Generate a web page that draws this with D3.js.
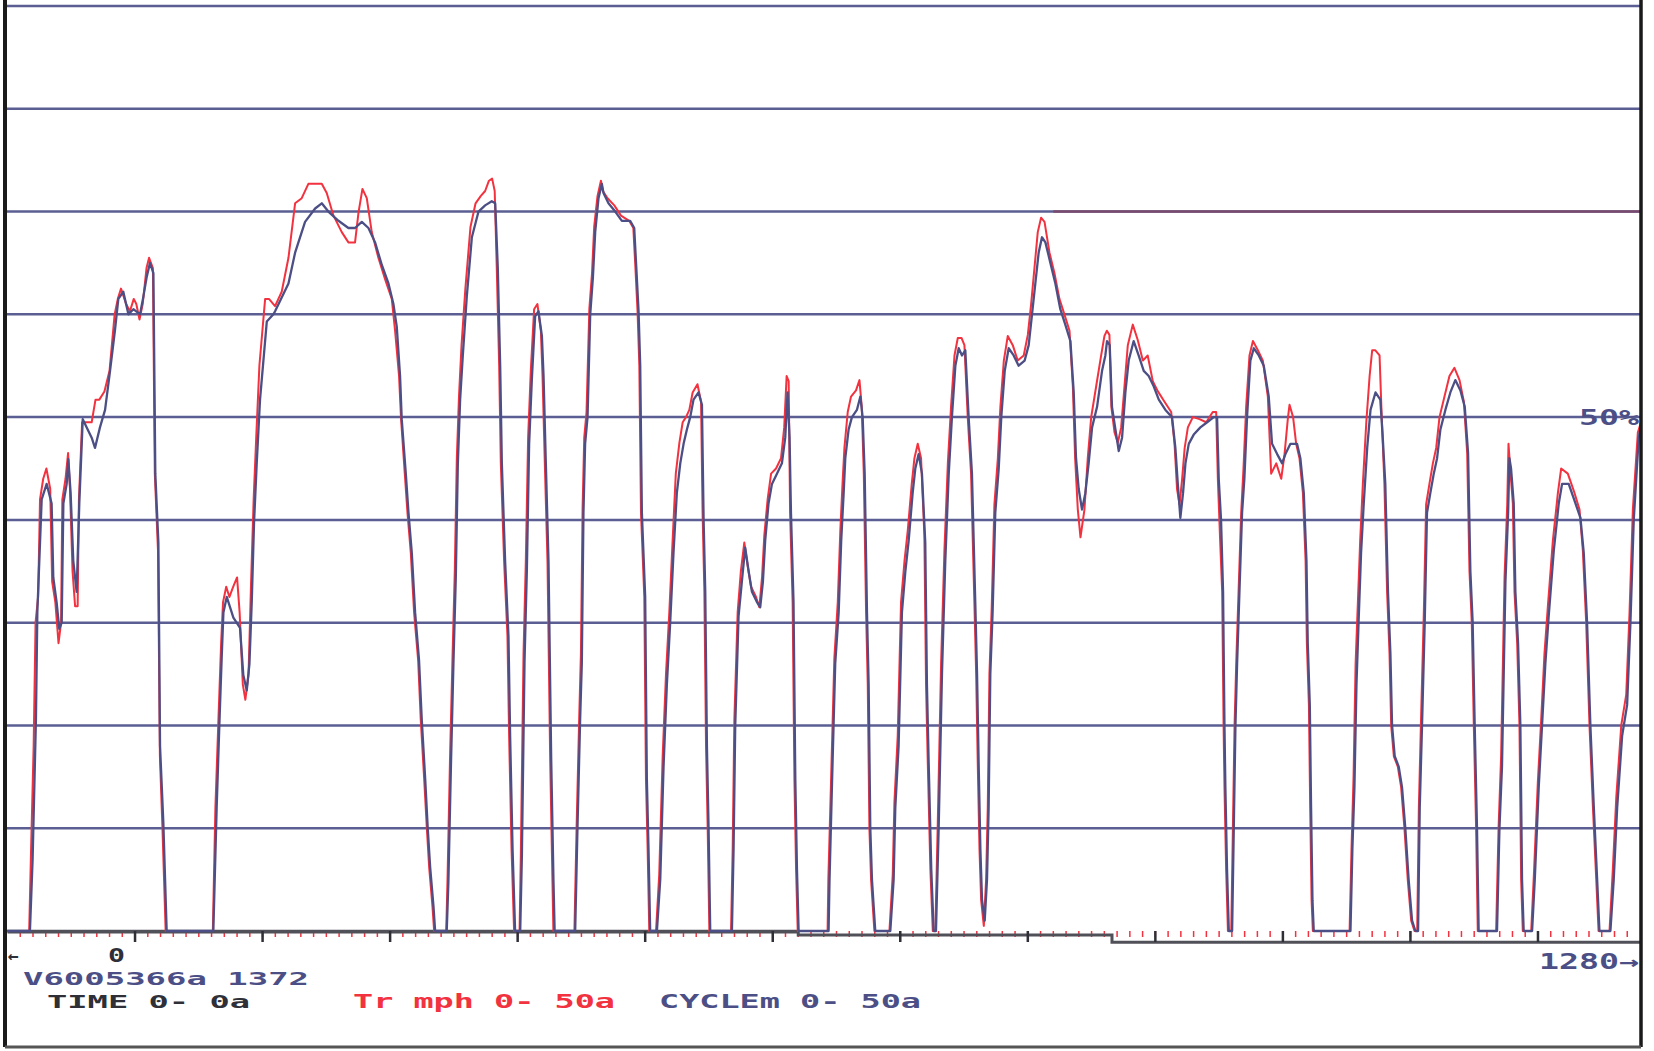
<!DOCTYPE html>
<html>
<head>
<meta charset="utf-8">
<script src="https://cdn.jsdelivr.net/npm/d3@7"></script>
<style>
  body { margin: 0; background: #fff; }
  svg { display: block; }
  text { font-family: "DejaVu Sans Mono", "Liberation Mono", monospace; font-weight: bold; }
</style>
</head>
<body>
<svg id="vis" width="1654" height="1051"></svg>
<script>
var vis = d3.select("#vis");

// time axis (s) and level grid (% of full scale)
var timeDomain = [0, 1280];
var timeTicks = [100, 200, 300, 400, 500, 600, 700, 800, 900, 1000, 1100, 1200];
var levelGrid = [10, 20, 30, 40, 50, 60, 70, 80, 90];

// CYCLEm trace, [time s, % of scale]
var cycle = [
  [0,0],[17.6,0],[19.7,7],[22.3,20.6],[23.4,31],[26.8,42],[30.7,43.5],[34.6,41.6],[35.9,34.4],[38.5,32],
  [40.6,29.4],[42.5,30],[43.8,41.6],[46.4,43.5],[47.7,45.9],[49.5,42.6],[51.6,36],[54.2,33],[56.3,41.6],[59,49.8],
  [62.1,49],[66,48],[68.6,47],[72.5,49],[76.5,50.7],[80.4,54.5],[84.3,58.5],[86.9,61.5],[90.8,62.2],[94.8,60],
  [98.7,60.5],[103.9,60],[106.5,61.7],[109.1,63.6],[111.7,65],[114.4,64],[115.9,44.5],[118.3,37.8],[119.6,18],[122.2,10.5],
  [124.8,0],[161.4,0],[164,12],[166.1,20],[168,26.8],[169.3,31],[171.9,32.5],[177.1,30.5],[182.3,29.5],[184.9,24.9],
  [187.6,23.4],[189.7,26],[191.5,32],[193.3,39.7],[195.4,45.5],[198,51.7],[203.3,59.3],[208.5,60],
  [209.8,60.3],[220.3,63],[225.5,66],[233.3,69],[241.2,70.3],[246.4,70.8],[251.6,70],[259.5,69.1],[267.3,68.4],[272.5,68.4],
  [277.8,69],[283,68.4],[288.2,67],[293.5,64.8],[298.7,63],[302.6,61],[305.2,58.8],[307.8,54],[309.1,49.8],[312.3,44.5],
  [314.4,40.7],[317,36.8],[319.6,31],[322.7,26.3],[324.8,20.6],[327.5,14.8],[329.5,10],[331.4,6.2],[334,2.4],[335.3,0],
  [344.4,0],[345.7,4.8],[347.8,16.7],[349.7,26.3],[351.5,34.4],[353.1,45.5],[354.9,51.7],[357,56],[360.1,61.7],[364.1,67.5],
  [369.3,70],[374.5,70.6],[379.7,71],[382.4,70.8],[384.4,64.6],[386.3,55],[387.6,45.5],[390.2,35.9],[392.8,28.7],[394.1,19],
  [396,8],[398,0],[402,0],[403.3,7.2],[405.4,26.3],[407.2,35],[409,47.4],[411.1,53.6],[413.7,59.8],[416.3,60.3],
  [419,57.9],[420.3,54],[422.1,45.5],[424.2,35.9],[426.3,16.7],[428.1,4.8],[429,0],
  [445.1,0],[446.9,10],[449,20.6],[450.3,26],[451.6,40.7],[452.9,47.4],[454.8,50],[456.9,60],[459,63.6],[460.8,68],
  [463.4,71.3],[466,72.7],[467.3,71.8],[471.2,70.8],[476.5,70],[481.7,69.1],[488.2,69.1],[491.4,68.4],[493,64.6],[494.8,60.3],
  [496.1,55],[497.4,40.7],[500,32.5],[501.3,14.8],[502.6,8],[503.9,0],[509.2,0],[511.8,5],[514.4,16],[517,24],
  [519.6,30],[522.2,36.8],[524.8,42.6],[527.5,45.5],[530.1,47.4],[532.7,48.8],[535.3,50],[537.9,51.7],[541.8,52.4],[544.5,51.2],
  [545.8,40],[547.1,33],[548.4,18],[549.7,10],[551,0],[568,0],[569.3,8],[570.6,20],[573.2,30.6],[575.8,34],
  [578.4,37.3],[581.1,35],[583.7,33],[587.6,32],[590.2,31.5],[592.3,34],[594.1,38],[596.7,41.6],[599.4,43.5],[603.3,44.5],
  [607.2,45.5],[609.8,48],[611.6,52.4],[613.2,48],[614.3,40.7],[616.3,32],[617.7,14.8],[619,6],[620.3,0],
  [643.8,0],[644.5,4.8],[646.4,14],[649,26],[651.7,31],[653.7,38],[655.6,42.6],[656.9,46],[659.5,48.8],[662.1,50],
  [666,50.7],[668.7,52],[670.5,50],[672.1,44.5],[673.9,31],[675.2,24],[676.5,10],[677.8,5],[680.4,0],[692.2,0],
  [694.8,5],[696.1,12],[698.7,18],[701.3,31],[704,35],[706.6,38],[709.7,42.6],[711.8,45],[714.4,46.4],[717,44.5],
  [719.6,37.8],[720.9,24],[722.2,16.7],[724.3,6],[726.2,0],[728,0],[730.1,10],[732.7,25],[735.3,36],[738,44.5],
  [740.5,50],[743.2,55],[745.8,56.7],[748.4,56],[751,56.5],[753.6,50],[756.2,44.5],[758.8,32],[760.2,25],[761.5,16],
  [762.8,8],[764.1,3],[766.2,1],[768,5],[769.3,12],[770.6,25],[772.4,31],[774.5,40.7],[777.2,45],[779.2,50],
  [781.9,54.5],[785,56.7],[788.9,56],[792.8,55],[797.5,55.5],[800.7,57],[803.3,60],[805.9,63],[808.5,66],[811.1,67.5],
  [813.8,67],[817.7,65],[821.6,63],[825.5,60.5],[829.4,59],[833.4,57.4],[836,52.4],[837.8,46],[839.9,43],[842.5,41],
  [845.1,42.6],[847.7,45.5],[850.4,49],[854.3,51],[858.2,54.5],[860.8,56],
  [862.1,57.4],[864.2,57],[866,51],[868.7,48.8],[871.3,46.7],[873.9,48],[876.5,52.4],[879.1,55.5],[883,57.4],[886.9,56],
  [890.9,54.5],[894.8,54],[898.7,53],[902.7,51.7],[907.9,50.7],[913.1,50],[915.7,47],[917.6,43.5],[919.6,40.2],[921.7,42.6],
  [923.6,45.5],[926.2,47.4],[930.1,48.3],[935.3,49],[940.6,49.5],[945.8,50],[948.4,50],[949.7,44],[951.5,40],[953.1,33],
  [954.2,20],[954.9,14],[956.2,6],[957.6,0],[960.2,0],[961.5,10],[962.8,20],[964.1,26],[966.2,34],[968,40.7],
  [969.8,44],[971.9,50],[974.5,55.5],[977.2,56.7],[981.1,56],[985,55],[988.9,52],[991.5,47.4],[995.5,46.4],[999.4,45.5],
  [1002,46.4],[1005.9,47.4],[1011.1,47.4],[1013.7,46],[1016.4,42.6],[1018.5,36],[1019.5,28],[1021.1,22],[1022.1,12],[1023.2,3],
  [1024.2,0],[1053,0],[1054.5,8],[1056.1,14],[1057.7,24],[1059.5,30.6],[1061.3,36.8],[1063.4,41.6],[1066.1,47],[1068.7,50.7],
  [1072.6,52.4],[1076.4,51.7],[1078.3,48],[1080.3,43.5],[1082.4,33],[1084.3,27],[1085.6,20],[1087.7,17],[1090.8,16],[1093.4,14],
  [1096,10],[1098.6,5],[1101.3,1],[1103.9,0],[1106,0],[1107.3,12],[1109.1,20],[1111.2,30],[1113,40.7],[1115.6,42.6],
  [1118.3,44.5],[1120.9,46],[1123.5,48.8],[1127.4,50.7],[1131.3,52.4],[1135.2,53.6],[1139.2,52.6],[1142.6,51],[1145.2,46.5],[1147,35],
  [1148.8,30],[1150.4,20],[1152.2,10],[1153.5,0],[1167.9,0],[1169.8,10],[1171.8,16],[1174.5,34],[1176.6,40.7],[1177.6,46],
  [1178.9,45],[1181,41.6],[1182.3,33],[1184.4,28],[1186.2,20],[1187.5,5],[1188.8,0],[1195.4,0],[1197.5,5],[1200.6,14],
  [1203.2,20],[1205.8,26],[1208.4,30.6],[1212.4,37],[1216.3,41.6],[1218.9,43.5],[1224.1,43.5],[1229.4,41.6],[1233.3,40.2],[1235.9,36.8],
  [1238.5,30],[1241.1,20],[1243.8,12],[1246.4,5],[1248.2,0],[1256.8,0],[1259.4,5],[1262.1,12],[1266,19],[1269.9,22],
  [1272.5,30],[1275.1,40],[1279,48],[1282,50]
];

// Tr mph trace, [time s, % of scale]
var trace = [
  [0,0],[17,0],[18.5,8],[20.5,18],[22,30],[24,32.5],[25.5,42],[28,44],[30.5,45],[33.5,43],
  [35,34],[37.5,32],[40,28],[42,30],[43,42],[45.5,44],[47.5,46.5],[49,43],[51,35],[53,31.6],
  [55,31.6],[56,42],[58.5,49.5],[62,49.5],[66,49.5],[69,51.7],[72,51.7],[76,52.5],[80,54.5],[84,60],
  [86.5,61.5],[89,62.5],[93,61],[96,60.3],[99,61.5],[101,61],[103.5,59.5],[106,61],[109,64.5],[111,65.5],
  [114,64.5],[115.5,44.5],[118,37],[119.5,17],[121.5,10],[124,0],[161,0],[163,12],[165.5,21],[167.5,28],
  [169,32],[171.5,33.5],[174,32.5],[177,33.5],[180,34.4],[182,31],[184.5,24],[186.5,22.5],[189,25],[191,34],
  [193,42],[195,48],[197.5,55],[202,61.5],[205,61.5],[209.8,60.8],[215,62.2],[220.3,65.5],[225.5,70.8],[230.7,71.3],
  [235.9,72.7],[246.4,72.7],[250.3,71.8],[255.6,69.6],[262.1,68],[267.3,67],[272.5,67],[275.2,69.9],[278.3,72.2],[281.7,71.3],
  [285.6,68],[290.8,65.5],[296.1,63.4],[301.3,61.5],[303.9,58.4],[307,54],[308.6,49.8],[311.5,44.5],[313.6,40.7],[316.2,36.8],
  [318.8,31],[322,26.3],[324,20.6],[326.7,14.8],[328.8,10],[330.6,6.2],[333.2,2.4],[334.5,0],[344,0],[345,5],
  [347,17],[349,27],[350.7,35],[352.3,46],[354,52],[356,57],[359,62.5],[363,68.5],[367,70.8],[371,71.5],
  [374.5,72],[377.5,73],[380,73.2],[382,72],[383.6,64.6],[385.5,55],[386.8,45.5],[389.4,35.9],[392,28.7],[393.3,19],
  [395.2,8],[397.2,0],[401.5,0],[402.5,7.5],[404.6,27],[406.4,36],[408.2,48],[410.3,54.5],[412.9,60.5],[415.5,61],
  [418.2,58.4],[419.5,54],[421.3,45.5],[423.4,35.9],[425.5,16.7],[427.3,4.8],[428,0],
  [444.5,0],[446.2,10],[448.3,21],[449.6,27],[450.9,41],[452.2,48],[454,50.5],[456.2,60.5],[458.3,64],[460,68.5],
  [462.6,71.5],[465.3,73],[466.8,72],[470.5,71.3],[475.8,70.6],[481,69.6],[487.5,69.1],[490.7,68.4],[492.3,64.6],[494,60.3],
  [495.4,55],[496.7,40.7],[499.3,32.5],[500.6,14.8],[501.9,8],[503.2,0],[508.5,0],[511,5.5],[513.7,17],[516.3,25],
  [518.9,31],[521.5,38],[524,44.5],[526.8,47.5],[529.4,49.5],[532,50],[534.6,50.7],[537.2,52.4],[541,53.2],[543.8,51.5],
  [545,40.7],[546.4,33],[547.7,18],[549,10],[550.3,0],[567.3,0],[568.6,8],[569.9,20.5],[572.5,31],[575,35],
  [577.7,37.8],[580.4,35.5],[583,33.5],[586.9,32.5],[589.5,31.5],[591.6,34.4],[593.4,38.5],[596,42],[598.7,44.5],[602.6,45],
  [606.5,46],[609,49],[610.9,54],[612.5,53.5],[613.6,40.7],[615.6,32],[617,14.8],[618.3,6],[619.6,0],
  [643,0],[643.6,5],[645.7,14.5],[648.3,26.5],[651,32],[653,39],[654.9,44],[656.2,47],[658.8,50.5],[661.4,52],
  [665.3,52.6],[668,53.6],[669.8,51],[671.4,44.5],[673.2,31],[674.5,24],[675.8,10],[677.1,5],[679.7,0],[691.5,0],
  [694.1,5.5],[695.4,12.5],[698,19],[700.6,32],[703.3,36],[705.9,39],[709,43.5],[711.1,46],[713.7,47.4],[716.3,46],
  [718.9,38.5],[720.2,24],[721.5,16.7],[723.6,6],[725.5,0],[727.5,0],[729.4,10.5],[732,26],[734.6,37],[737.3,45.5],
  [739.8,51],[742.5,56],[745.1,57.7],[748,57.7],[750.3,57],[752.9,50],[755.5,44.5],[758.1,32],[759.5,25],[760.8,16],
  [762.1,8],[763.4,3],[765.5,0.5],[767.3,5],[768.6,12],[769.9,25],[771.7,31.5],[773.8,41.5],[776.5,46],[778.5,51],
  [781.2,55.5],[784.3,57.9],[788.2,57],[792.1,55.5],[796.8,56],[800,58],[802.6,61],[805.2,64.5],[807.8,68],[810.4,69.4],
  [813.1,69],[817,66],[820.9,64],[824.8,61.5],[828.7,60],[832.7,58.4],[835.3,53],[837.1,46],[839.2,41],[841.3,38.3],
  [844.4,41],[847,46],[849.7,50],[853.6,53],[857.5,56],[860.1,57.9],
  [862,58.4],[864,58],[865.5,51],[868,48.5],[870.6,47.5],[873.2,49],[875.8,53],[878.4,57],[882.3,59],[886.2,57.5],
  [890.2,55.5],[894,56],[898,53.5],[902,52.5],[907.2,51.5],[912.4,50.5],[915,47.5],[917,43],[919,41.5],[921,44],
  [923,47],[925.5,49],[929.4,50],[934.6,49.8],[939.9,49.5],[945,50.5],[947.7,50.5],[949,44],[950.8,38],[952.4,33],
  [953.5,20],[954.2,14],[955.5,6],[956.9,0],[959.5,0],[960.8,10],[962.1,20],[963.4,26],[965.5,34],[967.3,40.7],
  [969.1,45],[971.2,51],[973.8,56],[976.5,57.4],[980.4,56.5],[984.3,55.5],[988.2,52],[990.8,44.5],[994.8,45.5],[998.7,44],
  [1001.3,46.4],[1004,50],[1005.2,51.2],[1008,50],[1010.4,47.4],[1013,46],[1015.7,42.6],[1017.8,36],[1018.8,28],[1020.4,22],
  [1021.4,12],[1022.5,3],[1023.5,0],[1052.3,0],[1053.8,8],[1055.4,15],[1057,26],[1058.8,32],[1060.6,38],[1062.7,43.5],
  [1065.4,49.5],[1068,54],[1070,56.5],[1072.5,56.5],[1075.8,56],[1077.5,50],[1079.6,43.5],[1081.7,33],[1083.6,27],[1084.9,20],
  [1087,17],[1090.1,16],[1092.7,14],[1095.3,10],[1097.9,5],[1100.6,1],[1103.2,0],[1105.3,0],[1106.6,12],[1108.4,21],
  [1110.5,31],[1112.3,41.5],[1114.9,43.5],[1117.6,45.5],[1120.2,47],[1122.8,50],[1126.7,52],[1130.6,54],[1134.5,54.8],[1138.5,53.6],
  [1141.9,51.5],[1144.5,46.5],[1146.3,35],[1148.1,30],[1149.7,20],[1151.5,10],[1152.8,0],[1167.2,0],[1169.1,10],[1171.1,17],
  [1173.8,34.5],[1175.9,41.5],[1176.9,47.4],[1178.2,45],[1180.3,41.6],[1181.6,33],[1183.7,28],[1185.5,20],[1186.8,5],[1188.1,0],
  [1194.7,0],[1196.8,5.5],[1199.9,14.5],[1202.5,20.5],[1205.1,27],[1207.7,31.5],[1211.7,38],[1215.6,42.6],[1218.2,45],[1223.4,44.5],
  [1228.7,42.6],[1232.6,41],[1235.2,37],[1237.8,30],[1240.4,20],[1243.1,12],[1245.7,5],[1247.5,0],[1256.1,0],[1258.7,6],
  [1261.4,13],[1265.3,20],[1269.2,23],[1271.8,31],[1274.4,41],[1278.3,48.5],[1282,50]
];

// TIME channel, sits just under the zero line
var timeTrace = [[0,0],[620,0],[620,-0.3],[866,-0.3],[866,-1],[1282,-1]];

var labels = {
  start: "0",
  end: "1280\u2192",
  id: "V6005366a 1372",
  time: "TIME 0- 0a",
  tr: "Tr mph 0- 50a",
  cyc: "CYCLEm 0- 50a",
  half: "50%"
};

var blue = "#4c4f85", red = "#f2323f", ink = "#2f2f38";

var x = d3.scaleLinear().domain(timeDomain).range([7.5, 1640]);
var y = d3.scaleLinear().domain([0, 90]).range([931, 6]);

vis.append("defs").append("clipPath").attr("id", "plot")
  .append("rect").attr("x", 5).attr("y", 0).attr("width", 1635).attr("height", 960);

// grid
vis.append("g").selectAll("line").data(levelGrid).enter().append("line")
  .attr("x1", 6).attr("x2", 1640)
  .attr("y1", d => y(d)).attr("y2", d => y(d))
  .attr("stroke", "#5a5e92")
  .attr("stroke-width", 2.5);

// the 70% line prints reddish on the right side
vis.append("line")
  .attr("x1", x(820)).attr("x2", 1640)
  .attr("y1", y(70)).attr("y2", y(70))
  .attr("stroke", "#7a4a6e").attr("stroke-width", 2.5);

// time axis: minor red ticks every 10 s, major dark ticks every 100 s
var minor = d3.range(10, 1280, 10);
vis.append("g").selectAll("line").data(minor).enter().append("line")
  .attr("x1", d => x(d)).attr("x2", d => x(d))
  .attr("y1", y(0)).attr("y2", y(0) + 6)
  .attr("stroke", red).attr("stroke-width", 1.5);

vis.append("path")
  .datum(timeTrace)
  .attr("fill", "none").attr("stroke", "#505058").attr("stroke-width", 3)
  .attr("clip-path", "url(#plot)")
  .attr("d", d3.line().x(d => x(d[0])).y(d => y(d[1]) + 1));

vis.append("line")
  .attr("x1", 6).attr("x2", x(620)).attr("y1", y(0)).attr("y2", y(0))
  .attr("stroke", "#505058").attr("stroke-width", 2.5);

vis.append("g").selectAll("line").data(timeTicks).enter().append("line")
  .attr("x1", d => x(d)).attr("x2", d => x(d))
  .attr("y1", y(0)).attr("y2", y(0) + 11)
  .attr("stroke", ink).attr("stroke-width", 2.5);

// traces
var line = d3.line().x(d => x(d[0])).y(d => y(d[1]));
vis.append("path").datum(trace)
  .attr("fill", "none").attr("stroke", red).attr("stroke-width", 2)
  .attr("stroke-linejoin", "round")
  .attr("clip-path", "url(#plot)")
  .attr("d", line);
vis.append("path").datum(cycle)
  .attr("fill", "none").attr("stroke", blue).attr("stroke-width", 2.3)
  .attr("stroke-linejoin", "round")
  .attr("clip-path", "url(#plot)")
  .attr("d", line);

// frame
vis.append("line").attr("x1", 5).attr("x2", 5).attr("y1", 0).attr("y2", 1047)
  .attr("stroke", "#1a1a1a").attr("stroke-width", 4);
vis.append("line").attr("x1", 1641).attr("x2", 1641).attr("y1", 0).attr("y2", 1047)
  .attr("stroke", "#1a1a1a").attr("stroke-width", 3.5);
vis.append("line").attr("x1", 5).attr("x2", 1641).attr("y1", 1047).attr("y2", 1047)
  .attr("stroke", "#555").attr("stroke-width", 3);

// text
function label(txt, px, py, len, color, size) {
  vis.append("text")
    .attr("x", px).attr("y", py)
    .attr("font-size", size)
    .attr("fill", color)
    .attr("textLength", len)
    .attr("lengthAdjust", "spacingAndGlyphs")
    .text(txt);
}

vis.append("text").attr("x", 8).attr("y", 962).attr("font-size", 18)
  .attr("fill", ink).text("\u2190");
label(labels.start, 108, 962, 17, ink, 19);
label(labels.id, 23, 985, 286, blue, 18.5);
label(labels.time, 47, 1008, 203, ink, 18.5);
label(labels.tr, 353, 1008, 262, red, 20);
label(labels.cyc, 659, 1008, 262, blue, 20);
label(labels.end, 1539, 969, 100, blue, 21);
label(labels.half, 1579, y(50) + 8, 60, blue, 21);
</script>
</body>
</html>
